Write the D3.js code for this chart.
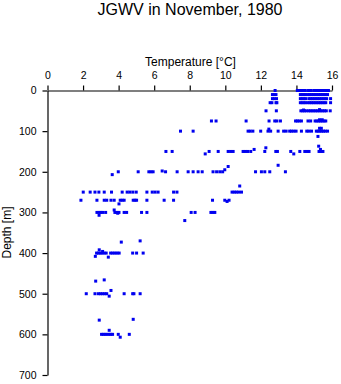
<!DOCTYPE html>
<html>
<head>
<meta charset="utf-8">
<script src="https://cdn.jsdelivr.net/npm/d3@7"></script>
<style>
  html, body { margin: 0; padding: 0; background: #fff; }
  svg { display: block; }
  text { font-family: "Liberation Sans", Arial, Helvetica, sans-serif; fill: #000; }
</style>
</head>
<body>
<svg id="chart" width="341" height="384"></svg>
<script>
// ---- Data ----
const title = "JGWV in November, 1980";
const xLabel = "Temperature [\u00B0C]";
const yLabel = "Depth [m]";
const xTicks = [0, 2, 4, 6, 8, 10, 12, 14, 16];
const yTicks = [0, 100, 200, 300, 400, 500, 600, 700];

// Standard sampling depths (m)
const levelDepths = [0, 10, 20, 30, 50, 75, 100, 150, 200, 250, 270, 300, 400, 500, 600];
// Temperatures (°C) observed at each standard depth
const levelTemps = [
  [12.8, 14.05, 14.12, 14.27, 14.37, 14.5, 14.68, 14.8, 14.97, 15.1, 15.2, 15.3, 15.4, 15.5, 15.6, 15.7, 15.8],
  [12.65, 12.75, 12.85, 14.22, 14.32, 14.42, 14.52, 14.65, 14.75, 14.85, 14.95, 15.05, 15.15, 15.25, 15.35, 15.45, 15.55, 15.65, 15.75],
  [12.65, 12.75, 12.88, 14.22, 14.32, 14.42, 14.52, 14.7, 14.8, 14.9, 15.0, 15.1, 15.2, 15.3, 15.4, 15.5, 15.6, 15.7, 15.92],
  [12.52, 12.62, 12.85, 12.9, 14.22, 14.32, 14.42, 14.52, 14.65, 14.75, 14.85, 14.95, 15.05, 15.15, 15.25, 15.35, 15.45, 15.55, 15.65, 15.92],
  [12.29, 12.87, 14.25, 14.35, 14.45, 14.55, 14.68, 14.78, 14.88, 14.98, 15.08, 15.18, 15.28, 15.38, 15.48, 15.58, 15.68, 15.9],
  [9.22, 9.48, 11.17, 12.46, 12.78, 12.9, 13.1, 13.95, 14.05, 14.15, 14.28, 14.65, 14.8, 15.05, 15.15, 15.25, 15.35, 15.45, 15.55, 15.65],
  [7.48, 8.19, 11.28, 11.4, 11.55, 11.99, 12.4, 12.55, 12.97, 13.28, 13.42, 13.62, 13.72, 13.85, 13.98, 14.28, 14.58, 14.7, 14.85, 15.12, 15.22, 15.32, 15.42, 15.52, 15.62, 15.75],
  [6.66, 7.01, 9.09, 9.6, 10.16, 10.3, 10.44, 11.0, 11.12, 11.25, 11.43, 12.22, 12.84, 12.93, 13.68, 14.19, 14.47, 14.6, 14.71, 15.27, 15.38, 15.49],
  [3.98, 5.1, 5.7, 5.82, 5.94, 6.64, 7.29, 7.91, 8.19, 8.47, 8.7, 9.31, 9.51, 9.69, 9.85, 11.7, 12.03, 12.22, 12.5, 13.38],
  [2.01, 2.4, 2.67, 2.89, 3.19, 3.6, 4.2, 4.48, 4.63, 4.8, 4.99, 5.59, 5.89, 6.05, 6.22, 7.09, 7.28, 10.38, 10.5, 10.62, 10.75, 10.91],
  [1.88, 2.78, 3.19, 3.33, 3.57, 3.75, 4.09, 4.2, 4.31, 4.82, 4.92, 5.01, 5.59, 6.56, 7.09, 9.28, 9.97, 10.21],
  [2.78, 2.9, 3.0, 3.1, 3.27, 3.79, 3.9, 4.02, 4.31, 4.45, 5.29, 5.59, 8.08, 8.3, 9.19, 9.3, 9.41],
  [2.76, 2.86, 2.96, 3.06, 3.18, 3.3, 3.55, 3.67, 3.79, 3.91, 4.03, 4.79, 5.01, 5.38],
  [2.18, 2.67, 2.86, 2.98, 3.1, 3.22, 3.33, 4.31, 4.79, 4.86, 5.21],
  [3.04, 3.14, 3.24, 3.34, 3.46, 3.56, 3.66, 3.98, 4.6]
];
// Observations off the standard depths
const extraDepths = [48, 47, 72, 72, 95, 93, 93, 113, 141, 137, 156, 145, 156, 145, 184, 187, 195, 207, 198, 235, 273, 279, 307, 294, 302, 320, 373, 370, 392, 396, 408, 410, 469, 466, 492, 506, 565, 563, 590, 607];
const extraTemps  = [14.4, 15.3, 15.3, 15.45, 12.45, 15.3, 15.4, 15.21, 12.28, 15.25, 8.87, 11.62, 13.85, 15.35, 12.97, 10.16, 9.97, 3.64, 6.45, 10.81, 10.1, 4.02, 2.9, 3.75, 3.95, 7.72, 4.15, 5.21, 2.91, 3.1, 2.69, 3.42, 2.71, 3.19, 3.57, 3.47, 2.91, 4.82, 3.47, 4.09];

// ---- Build point table ----
const points = [];
levelDepths.forEach((d, i) => levelTemps[i].forEach(t => points.push({ t, d })));
extraDepths.forEach((d, i) => points.push({ t: extraTemps[i], d }));

// ---- Layout ----
const svg = d3.select("#chart");
const x = d3.scaleLinear().domain([0, 16]).range([47.5, 332]);
const y = d3.scaleLinear().domain([0, 700]).range([90.5, 375]);

svg.append("text")
  .attr("x", 190).attr("y", 14.5)
  .attr("text-anchor", "middle")
  .style("font-size", "16px")
  .text(title);

svg.append("text")
  .attr("x", 190.5).attr("y", 65.5)
  .attr("text-anchor", "middle")
  .style("font-size", "12px")
  .text(xLabel);

svg.append("text")
  .attr("transform", "translate(11,232.5) rotate(-90)")
  .attr("text-anchor", "middle")
  .style("font-size", "12px")
  .text(yLabel);

// Top axis
const xAxis = svg.append("g")
  .attr("transform", `translate(0,${y(0)})`)
  .call(d3.axisTop(x).tickValues(xTicks).tickSize(5).tickPadding(7).tickSizeOuter(0));
// Left axis
const yAxis = svg.append("g")
  .attr("transform", `translate(${x(0)},0)`)
  .call(d3.axisLeft(y).tickValues(yTicks).tickSize(5).tickPadding(6).tickSizeOuter(0));

[xAxis, yAxis].forEach(g => {
  g.select(".domain").attr("stroke", "#000").attr("stroke-width", 1.2);
  g.selectAll(".tick line").attr("stroke", "#000").attr("stroke-width", 1.2);
  g.selectAll(".tick text")
    .style("font-family", "'Liberation Sans', Arial, sans-serif")
    .style("font-size", "10.5px")
    .attr("fill", "#000");
});

// Points
svg.append("g")
  .selectAll("rect")
  .data(points)
  .join("rect")
  .attr("x", p => x(p.t) - 1.5)
  .attr("y", p => y(p.d) - 1.5)
  .attr("width", 3)
  .attr("height", 3)
  .attr("fill", "#0000f0");
</script>
</body>
</html>
